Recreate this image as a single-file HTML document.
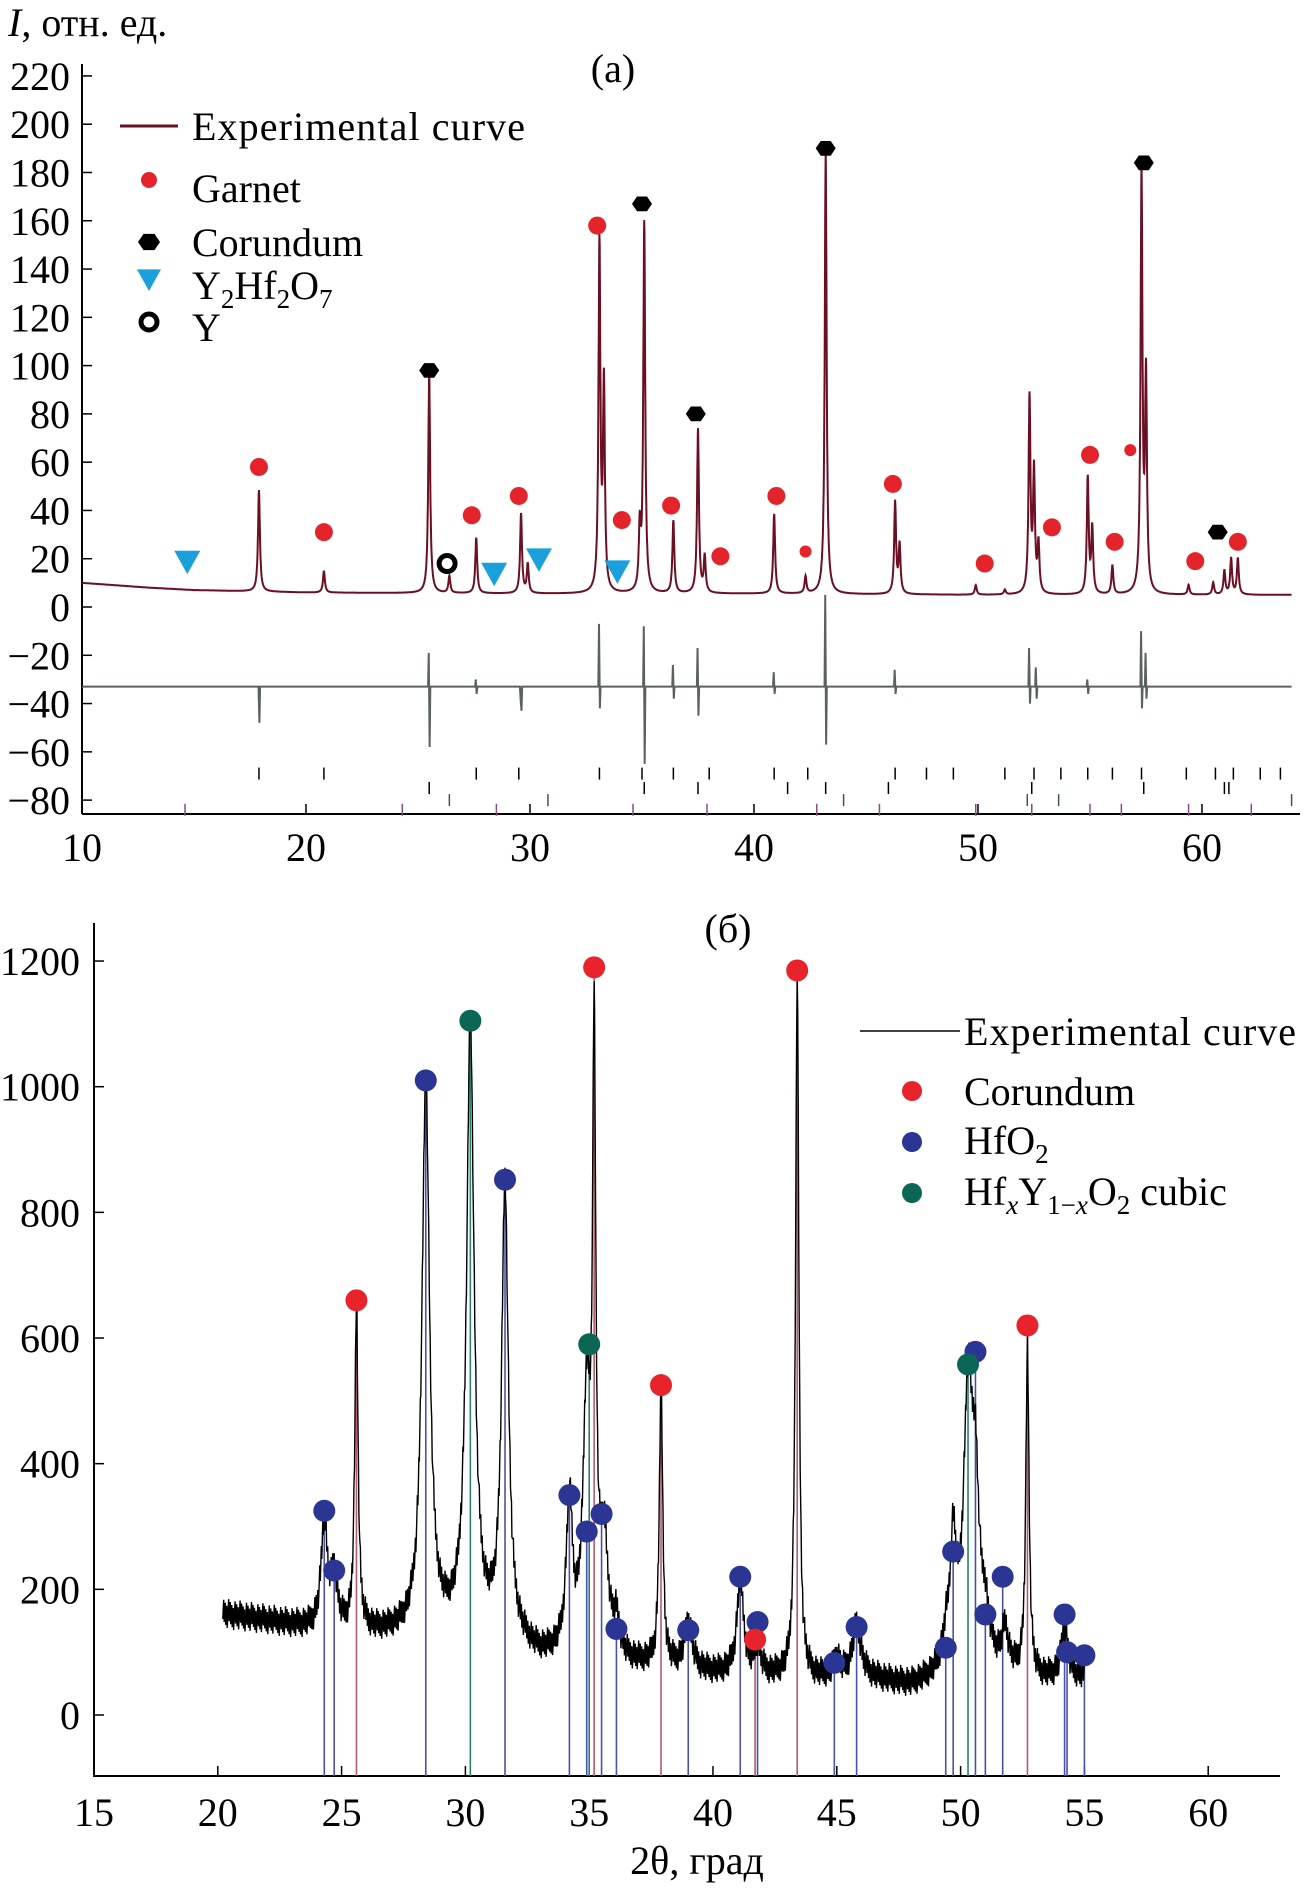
<!DOCTYPE html>
<html><head><meta charset="utf-8"><style>
html,body{margin:0;padding:0;background:#fff}
svg{display:block;font-family:"Liberation Serif",serif}
</style></head><body>
<svg id="fig" width="1304" height="1889" viewBox="0 0 1304 1889" xmlns="http://www.w3.org/2000/svg">
<g id="pa"></g>
<g id="pb"></g>
</svg>
<script>
// ---------- Panel (a) data ----------
const aBackground = [[10,10],[13,8],[15,7],[20,6],[30,5.5],[40,5.5],[50,5],[64,5]];
const aPeakPos = [17.9,20.8,25.5,26.4,27.6,29.6,29.9,33.1,33.3,34.9,35.1,36.4,37.5,37.8,40.9,42.3,43.2,46.3,46.5,49.9,51.2,52.3,52.5,52.7,54.9,55.1,56.0,57.3,57.5,59.4,60.5,61.0,61.3,61.6];
const aPeakH   = [42,9,91,7,23,33,12,144,85,25,153,30,68,15,33,7,183,38,20,4,2,81,50,20,48,27,12,173,88,4,5,10,15,15];
const aGarnetX = [17.9,20.8,27.4,29.5,33.0,34.1,36.3,38.5,41.0,46.2,50.3,53.3,55.0,56.1,59.7,61.6];
const aGarnetY = [58,31,38,46,158,36,42,21,46,51,18,33,63,27,19,27];
const aGarnetSmallX = [42.3,56.8];
const aGarnetSmallY = [23,65];
const aCorundumX = [25.5,35.0,37.4,43.2,57.4,60.7];
const aCorundumY = [98,167,80,190,184,31];
const aPyroX = [14.7,28.4,30.4,33.9];
const aPyroY = [19,14,20,15];
const aYX = [26.3];
const aYY = [18];
const aDiffBase = -33;
const aDiffX    = [17.9,25.5,27.6,29.6,33.1,35.1,36.4,37.5,40.9,43.2,46.3,52.3,52.6,54.9,57.3,57.5];
const aDiffUp   = [-33,-19,-30,-38,-7,-8,-24,-17,-27,5,-26,-17,-25,-30,-10,-19];
const aDiffDown = [-48,-58,-36,-43,-42,-65,-38,-45,-36,-57,-36,-40,-38,-36,-42,-38];
const aTicks1 = [17.9,20.8,27.6,29.5,33.1,35.0,36.4,38.0,40.9,42.4,46.3,47.7,48.9,51.2,52.5,53.7,54.9,56.0,57.3,59.3,60.6,61.4,62.6,63.5];
const aTicks2 = [25.5,35.1,37.5,41.5,43.2,46.0,52.4,57.4,61.0,61.2];
const aTicks3 = [26.4,30.8,44.0,52.2,53.6,64.0];
const aTicks4 = [14.6,24.3,28.5,34.6,37.9,42.8,45.6,49.9,52.4,55.0,56.4,59.4,62.2];
const aXTicks = [10,20,30,40,50,60];
const aYTicks = [220,200,180,160,140,120,100,80,60,40,20,0,-20,-40,-60,-80];

// ---------- Panel (б) data ----------
const bBackground = [[20.2,160],[22,150],[24,135],[26,130],[28,125],[30,128],[32,110],[33,90],[36,80],[38,75],[40,65],[42,60],[44,55],[46,60],[48,45],[49.5,60],[51,75],[53,55],[55,60]];
const bPeakPos = [24.3,24.7,25.6,28.4,30.2,31.6,34.2,34.9,35.2,35.6,36.1,37.9,39.0,41.1,41.8,43.4,45.0,45.8,49.4,49.7,50.3,50.6,51.0,51.8,52.7,54.2];
const bPeakH   = [170,80,520,880,970,720,240,400,930,170,50,450,75,150,45,1120,30,80,40,190,420,240,60,60,520,80];
const bPeakW   = [0.15,0.15,0.08,0.18,0.18,0.16,0.15,0.18,0.08,0.2,0.15,0.08,0.18,0.16,0.15,0.08,0.15,0.2,0.15,0.15,0.22,0.18,0.15,0.15,0.08,0.15];
const bCorX = [25.6,35.2,37.9,41.7,43.4,52.7];
const bCorY = [660,1190,525,120,1185,620];
const bHfX = [24.3,24.7,28.4,31.6,34.2,34.9,35.5,36.1,39.0,41.1,41.8,44.9,45.8,49.4,49.7,50.6,51.0,51.7,54.2,54.3,55.0];
const bHfY = [325,230,1010,852,350,292,320,137,135,220,148,83,140,107,260,578,160,220,160,100,95];
const bCubX = [30.2,35.0,50.3];
const bCubY = [1105,590,558];
const bXTicks = [15,20,25,30,35,40,45,50,55,60];
const bYTicks = [1200,1000,800,600,400,200,0];

const NS="http://www.w3.org/2000/svg";
const FS=40;
function mk(parent,tag,attrs,text){const e=document.createElementNS(NS,tag);for(const k in attrs)e.setAttribute(k,attrs[k]);if(text!==undefined)e.textContent=text;parent.appendChild(e);return e;}
function interp(bg,x){for(let i=0;i<bg.length-1;i++){if(x>=bg[i][0]&&x<=bg[i+1][0]){const t=(x-bg[i][0])/(bg[i+1][0]-bg[i][0]);return bg[i][1]+t*(bg[i+1][1]-bg[i][1]);}}return x<bg[0][0]?bg[0][1]:bg[bg.length-1][1];}

// ===== Panel A =====
const A=document.getElementById('pa');
const ax=v=>82+(v-10)*22.4, ay=v=>607-v*2.414;
let e;
e=mk(A,'text',{x:8,y:36,'font-size':FS});


e.innerHTML='<tspan font-style="italic">I</tspan>, отн. ед.';
e=mk(A,'text',{x:613,y:82,'font-size':FS,'text-anchor':'middle'},'(a)');


e=mk(A,'line',{x1:82,y1:64,x2:82,y2:814,stroke:'#000','stroke-width':2});


e=mk(A,'line',{x1:82,y1:814,x2:1300,y2:814,stroke:'#000','stroke-width':2});


aYTicks.forEach(v=>{
  mk(A,'line',{x1:82,y1:ay(v),x2:92,y2:ay(v),stroke:'#000','stroke-width':1.5});
  e=mk(A,'text',{x:70,y:ay(v)+14,'font-size':FS,'text-anchor':'end'},v<0?'\u2212'+(-v):String(v));
  
  
});
aXTicks.forEach(v=>{
  mk(A,'line',{x1:ax(v),y1:814,x2:ax(v),y2:804,stroke:'#000','stroke-width':1.5});
  e=mk(A,'text',{x:ax(v),y:861,'font-size':FS,'text-anchor':'middle'},String(v));
  
  
});
let d='';
for(let x=10;x<=64.001;x+=0.01){let y=interp(aBackground,x);for(let i=0;i<aPeakPos.length;i++){const w=0.05;const u=(x-aPeakPos[i])/w;y+=aPeakH[i]/(1+u*u);}d+=(d?'L':'M')+ax(x).toFixed(1)+','+ay(y).toFixed(1);}
e=mk(A,'path',{d:d,fill:'none',stroke:'#6b0f22','stroke-width':2});


let dd='M'+ax(10)+','+ay(aDiffBase);
aDiffX.forEach((x,i)=>{dd+='L'+ax(x-0.05)+','+ay(aDiffBase)+'L'+ax(x-0.02)+','+ay(aDiffUp[i])+'L'+ax(x+0.02)+','+ay(aDiffDown[i])+'L'+ax(x+0.05)+','+ay(aDiffBase);});
dd+='L'+ax(64)+','+ay(aDiffBase);
e=mk(A,'path',{d:dd,fill:'none',stroke:'#5a6260','stroke-width':2});


[[aTicks1,-69,'#000'],[aTicks2,-75,'#000'],[aTicks3,-80,'#3a5a4a'],[aTicks4,-84,'#8a4a8a']].forEach(([arr,v,c])=>{
  arr.forEach(x=>{e=mk(A,'line',{x1:ax(x),y1:ay(v)-6,x2:ax(x),y2:ay(v)+6,stroke:c,'stroke-width':1.5});
  
  });
});
function hex(g,cx,cy,r){const p=[];for(let k=0;k<6;k++){const a=Math.PI/3*k;p.push((cx+r*Math.cos(a)).toFixed(1)+','+(cy+r*0.85*Math.sin(a)).toFixed(1));}
  return mk(g,'polygon',{points:p.join(' '),fill:'#000'});}
function tri(g,cx,cy,r){return mk(g,'polygon',{points:`${cx-r},${cy-r*0.8} ${cx+r},${cy-r*0.8} ${cx},${cy+r}`,fill:'#1ba0dc'});}
aGarnetX.forEach((x,i)=>{e=mk(A,'circle',{cx:ax(x),cy:ay(aGarnetY[i]),r:9,fill:'#e3242b'});
  
  });
aGarnetSmallX.forEach((x,i)=>{e=mk(A,'circle',{cx:ax(x),cy:ay(aGarnetSmallY[i]),r:6,fill:'#e3242b'});
  
  });
aCorundumX.forEach((x,i)=>{e=hex(A,ax(x),ay(aCorundumY[i]),10);
  
  });
aPyroX.forEach((x,i)=>{e=tri(A,ax(x),ay(aPyroY[i]),13);
  
  });
aYX.forEach((x,i)=>{e=mk(A,'circle',{cx:ax(x),cy:ay(aYY[i]),r:8,fill:'none',stroke:'#000','stroke-width':5});
  
  });
const LA=mk(A,'g',{});


mk(LA,'line',{x1:120,y1:126,x2:178,y2:126,stroke:'#6b0f22','stroke-width':3});
mk(LA,'text',{x:192,y:140,'font-size':FS,textLength:333},'Experimental curve');
mk(LA,'circle',{cx:149,cy:180,r:8,fill:'#e3242b'});
mk(LA,'text',{x:192,y:202,'font-size':FS},'Garnet');
hex(LA,149,242,11);
mk(LA,'text',{x:192,y:256,'font-size':FS},'Corundum');
tri(LA,149,279,12);
e=mk(LA,'text',{x:192,y:299,'font-size':FS});
e.innerHTML='Y<tspan font-size="27" dy="9">2</tspan><tspan dy="-9">Hf</tspan><tspan font-size="27" dy="9">2</tspan><tspan dy="-9">O</tspan><tspan font-size="27" dy="9">7</tspan>';
mk(LA,'circle',{cx:149,cy:322,r:8,fill:'none',stroke:'#000','stroke-width':5});
mk(LA,'text',{x:192,y:341,'font-size':FS},'Y');

// ===== Panel B =====
const B=document.getElementById('pb');
const bx=v=>94+(v-15)*24.76, by=v=>1715-v*0.6283;
e=mk(B,'line',{x1:94,y1:923,x2:94,y2:1777,stroke:'#000','stroke-width':2});


e=mk(B,'line',{x1:94,y1:1776,x2:1280,y2:1776,stroke:'#000','stroke-width':2});


bYTicks.forEach(v=>{
  mk(B,'line',{x1:94,y1:by(v),x2:104,y2:by(v),stroke:'#000','stroke-width':1.5});
  e=mk(B,'text',{x:80,y:by(v)+14,'font-size':FS,'text-anchor':'end'},String(v));
  
  
});
bXTicks.forEach(v=>{
  mk(B,'line',{x1:bx(v),y1:1776,x2:bx(v),y2:1766,stroke:'#000','stroke-width':1.5});
  e=mk(B,'text',{x:bx(v),y:1826,'font-size':FS,'text-anchor':'middle'},String(v));
  
  
});
e=mk(B,'text',{x:728,y:942,'font-size':FS,'text-anchor':'middle'},'(б)');


e=mk(B,'text',{x:697,y:1874,'font-size':FS,'text-anchor':'middle'},'2θ, град');


function sticks(xs,ys,col,name){xs.forEach((x,i)=>{const s=mk(B,'line',{x1:bx(x),y1:1776,x2:bx(x),y2:by(ys[i]),stroke:col,'stroke-width':1.6});
  
  });}
sticks(bHfX,bHfY,'#4a52a8','hfo2-stick');
sticks(bCorX,bCorY,'#b85a6a','corundum-stick');
sticks(bCubX,bCubY,'#2a8070','cubic-stick');
let db='';let k=0;
for(let x=20.2;x<=55.001;x+=0.02){let y=interp(bBackground,x);for(let i=0;i<bPeakPos.length;i++){const u=(x-bPeakPos[i])/bPeakW[i];y+=bPeakH[i]/(1+u*u);}
  k++;y+=((k*7919)%23-11)*2.2;db+=(db?'L':'M')+bx(x).toFixed(1)+','+by(y).toFixed(1);}
e=mk(B,'path',{d:db,fill:'none',stroke:'#000','stroke-width':1.4});


function dots(xs,ys,col,name){xs.forEach((x,i)=>{const c=mk(B,'circle',{cx:bx(x),cy:by(ys[i]),r:11,fill:col});
  
  });}
dots(bHfX,bHfY,'#2b3593','hfo2-marker');
dots(bCorX,bCorY,'#e8232b','corundum-marker-b');
dots(bCubX,bCubY,'#0b6656','cubic-marker');
const LB=mk(B,'g',{});


mk(LB,'line',{x1:860,y1:1031,x2:960,y2:1031,stroke:'#000','stroke-width':1.5});
mk(LB,'text',{x:964,y:1045,'font-size':FS,textLength:332},'Experimental curve');
mk(LB,'circle',{cx:912,cy:1091,r:10,fill:'#e8232b'});
mk(LB,'text',{x:964,y:1105,'font-size':FS},'Corundum');
mk(LB,'circle',{cx:912,cy:1142,r:10,fill:'#2b3593'});
e=mk(LB,'text',{x:964,y:1154,'font-size':FS});
e.innerHTML='HfO<tspan font-size="27" dy="9">2</tspan>';
mk(LB,'circle',{cx:912,cy:1193,r:10,fill:'#0b6656'});
e=mk(LB,'text',{x:964,y:1205,'font-size':FS});
e.innerHTML='Hf<tspan font-size="27" dy="9" font-style="italic">x</tspan><tspan dy="-9">Y</tspan><tspan font-size="27" dy="9">1−</tspan><tspan font-size="27" font-style="italic">x</tspan><tspan dy="-9">O</tspan><tspan font-size="27" dy="9">2</tspan><tspan dy="-9"> cubic</tspan>';
</script>
</body></html>
